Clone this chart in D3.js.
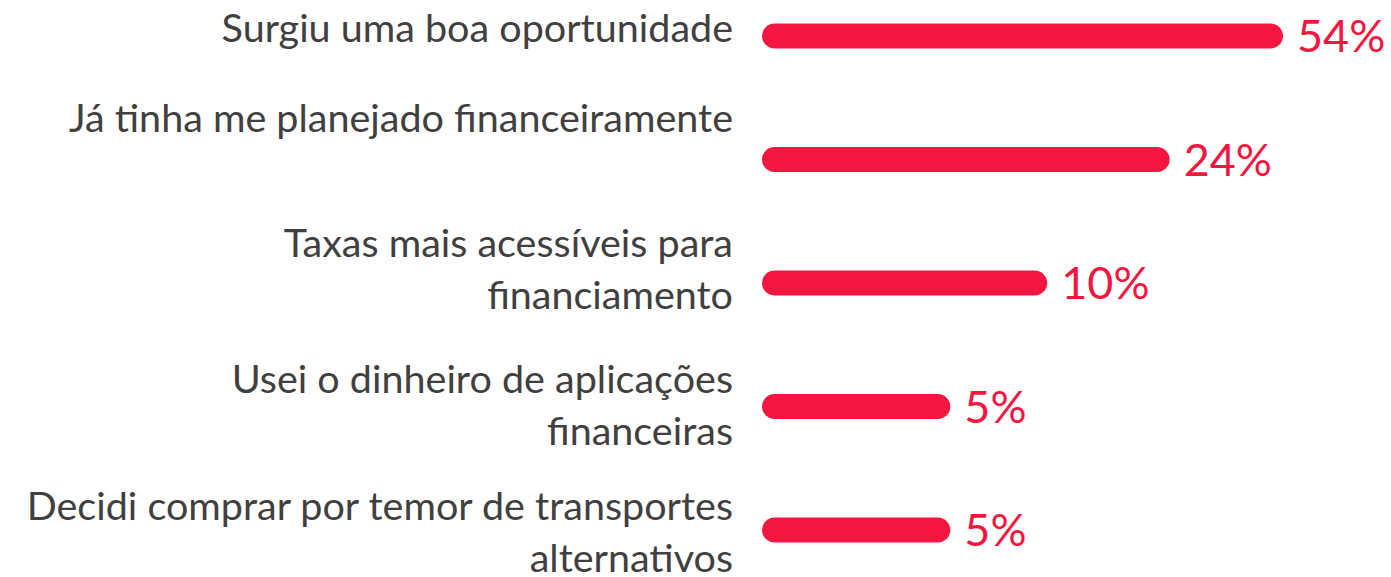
<!DOCTYPE html>
<html>
<head>
<meta charset="utf-8">
<script src="https://cdn.jsdelivr.net/npm/d3@7"></script>
<style>
  html, body { margin: 0; padding: 0; background: #ffffff; }
  svg { display: block; }
</style>
</head>
<body>
<svg id="chart" width="1391" height="577"></svg>
<script>
// ---- data ----
const categories = [
  "Surgiu uma boa oportunidade",
  "Já tinha me planejado financeiramente",
  "Taxas mais acessíveis para\nfinanciamento",
  "Usei o dinheiro de aplicações\nfinanceiras",
  "Decidi comprar por temor de transportes\nalternativos"
];
const values = [54, 24, 10, 5, 5];
const valueLabels = ["54%", "24%", "10%", "5%", "5%"];

// ---- layout / style (not data) ----
const W = 1391, H = 577;
const barColor = "#F31640";
const textColor = "#404040";
const barHeight = 25;
const labelRight = 733;
const barStart = 762;
const lineHeight = 52;
// first-line baseline offset of each category label relative to its bar centre
const labelNudge = [6, -28, -26, -14, -10];

const svg = d3.select("#chart");
svg.append("rect").attr("width", W).attr("height", H).attr("fill", "#fff");

const y = d3.scalePoint().domain(categories).range([36, 530]);
const x = d3.scaleLog().domain([1.3, 54]).range([barStart, barStart + 521]);

const rows = categories.map((c, i) => ({ cat: c, value: values[i], label: valueLabels[i], nudge: labelNudge[i] }));

// bars
svg.selectAll("rect.bar").data(rows).join("rect")
  .attr("class", "bar")
  .attr("x", barStart)
  .attr("y", d => y(d.cat) - barHeight / 2)
  .attr("width", d => x(d.value) - barStart)
  .attr("height", barHeight)
  .attr("rx", barHeight / 2)
  .attr("ry", barHeight / 2)
  .attr("fill", barColor);

// value labels
svg.selectAll("text.val").data(rows).join("text")
  .attr("class", "val")
  .attr("x", d => x(d.value) + 14)
  .attr("y", d => y(d.cat) + 16)
  .attr("font-family", "Lato, 'Open Sans', sans-serif")
  .attr("font-size", 45)
  .attr("fill", barColor)
  .text(d => d.label);

// category labels
const cat = svg.selectAll("text.cat").data(rows).join("text")
  .attr("class", "cat")
  .attr("text-anchor", "end")
  .attr("font-family", "Lato, 'Open Sans', sans-serif")
  .attr("font-size", 39.5)
  .attr("fill", textColor);

cat.each(function(d) {
  const t = d3.select(this);
  d.cat.split("\n").forEach((line, j) => {
    t.append("tspan")
      .attr("x", labelRight)
      .attr("y", y(d.cat) + d.nudge + j * lineHeight)
      .text(line);
  });
});
</script>
</body>
</html>
